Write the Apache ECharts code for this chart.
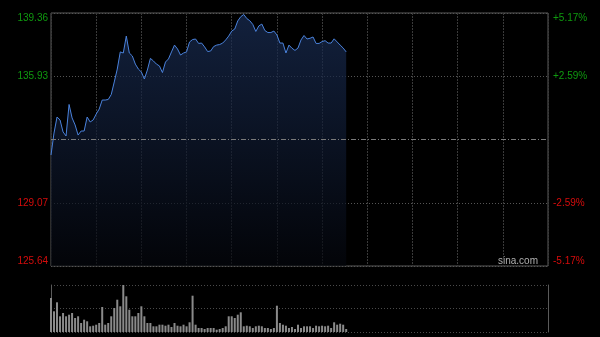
<!DOCTYPE html>
<html>
<head>
<meta charset="utf-8">
<script src="https://cdn.jsdelivr.net/npm/echarts@6/dist/echarts.min.js"></script>
<style>
html,body{margin:0;padding:0;background:#000;}
#c{width:600px;height:337px;}
</style>
</head>
<body>
<div id="c"></div>
<script>
// ---- data ----
const prevClose = 132.50;
const priceTicks = [125.64, 129.07, 132.50, 135.93, 139.36];
const priceLabels = ['125.64', '129.07', '', '135.93', '139.36'];
const pctLabels = ['-5.17%', '-2.59%', '', '+2.59%', '+5.17%'];
const sessionMinutes = 330;   // 09:30-12:00, 13:00-16:00
const stepMinutes = 2;

const prices = [131.66,132.85,133.72,133.56,132.91,132.69,134.40,133.67,133.29,132.74,
132.96,132.96,133.72,133.45,133.56,133.88,134.15,134.64,134.64,134.67,
134.94,135.62,136.32,137.25,137.19,138.11,137.19,137.03,136.59,136.32,
136.16,135.78,136.27,136.90,136.76,136.59,136.49,136.13,136.70,136.87,
137.25,137.62,137.41,137.08,137.19,137.25,137.79,137.92,137.95,137.71,
137.73,137.52,137.27,137.30,137.54,137.62,137.65,137.73,137.90,138.11,
138.38,138.49,138.93,139.16,139.28,139.06,138.94,138.74,138.36,138.66,
138.76,138.41,138.30,138.30,138.38,138.17,137.73,137.73,137.19,137.62,
137.45,137.33,137.46,137.90,138.14,137.95,137.99,138.06,137.71,137.71,
137.81,137.86,137.73,137.73,137.96,137.79,137.62,137.46,137.25];

const volumes = [340,207,297,157,190,157,173,190,140,157,
90,123,107,57,63,73,90,250,73,90,
157,240,323,257,470,357,223,157,157,190,
257,157,90,90,57,57,73,73,63,73,
50,90,63,57,73,57,97,363,73,40,
40,30,40,40,40,23,30,40,57,157,
157,140,173,197,57,63,57,40,57,63,
57,40,40,30,40,263,90,73,63,40,
50,30,73,40,57,57,57,40,63,57,
63,57,63,40,97,73,83,73,30];
const volumeMax = 470;

// ---- build ----
function fmtTime(m) {
  let t = m <= 150 ? 570 + m : 780 + (m - 150);
  const h = Math.floor(t / 60), mm = t % 60;
  return (h < 10 ? '0' : '') + h + ':' + (mm < 10 ? '0' : '') + mm;
}
const times = [];
for (let m = 0; m <= sessionMinutes; m += stepMinutes) times.push(fmtTime(m));
const perGrid = 30 / stepMinutes;

const base = priceTicks[0];
const step = priceTicks[1] - priceTicks[0];
const priceSteps = prices.map(p => (p - base) / step);
const prevStep = (prevClose - base) / step;

const GREEN = '#0f9a0f', RED = '#d60c0c';
const labelColor = (v) => {
  const i = Math.round(v);
  return i > 2 ? GREEN : (i < 2 ? RED : '#888');
};

const chart = echarts.init(document.getElementById('c'), null, {renderer: 'canvas'});
chart.setOption({
  backgroundColor: '#000',
  animation: false,
  textStyle: {fontFamily: 'Liberation Sans, Arial, sans-serif'},
  grid: [
    {left: 51, right: 52, top: 13, bottom: 71, show: true, borderColor: '#5a5a5a', borderWidth: 1},
    {left: 51, right: 52, top: 285, bottom: 5, show: false}
  ],
  xAxis: [
    {type: 'category', gridIndex: 0, data: times, boundaryGap: false,
     axisLine: {show: false}, axisTick: {show: false}, axisLabel: {show: false},
     splitLine: {show: true, interval: (i) => i % perGrid === 0,
       lineStyle: {color: '#3a3a3a', type: [2, 1], width: 1}}},
    {type: 'category', gridIndex: 1, data: times, boundaryGap: false,
     axisLine: {show: false}, axisTick: {show: false}, axisLabel: {show: false},
     splitLine: {show: false}}
  ],
  yAxis: [
    {type: 'value', gridIndex: 0, min: 0, max: 4, interval: 1, position: 'left',
     axisLine: {show: false}, axisTick: {show: false},
     axisLabel: {show: true, margin: 3, fontSize: 10,
       formatter: (v) => priceLabels[Math.round(v)],
       color: labelColor,
       verticalAlignMaxLabel: 'top', verticalAlignMinLabel: 'bottom'},
     splitLine: {show: true, lineStyle: {color: ['#555', '#555', 'rgba(0,0,0,0)', '#555', '#555'], type: [1, 2], width: 1}}},
    {type: 'value', gridIndex: 0, min: 0, max: 4, interval: 1, position: 'right',
     axisLine: {show: false}, axisTick: {show: false},
     axisLabel: {show: true, margin: 5, fontSize: 10,
       formatter: (v) => pctLabels[Math.round(v)],
       color: labelColor,
       verticalAlignMaxLabel: 'top', verticalAlignMinLabel: 'bottom'},
     splitLine: {show: false}},
    {type: 'value', gridIndex: 1, min: 0, max: volumeMax, interval: volumeMax / 2, position: 'left',
     axisLine: {show: true, lineStyle: {color: '#5a5a5a'}}, axisTick: {show: false}, axisLabel: {show: false},
     splitLine: {show: true, lineStyle: {color: '#4a4a4a', type: [1, 2], width: 1}}},
    {type: 'value', gridIndex: 1, min: 0, max: volumeMax, position: 'right',
     axisLine: {show: true, lineStyle: {color: '#5a5a5a'}}, axisTick: {show: false}, axisLabel: {show: false},
     splitLine: {show: false}}
  ],
  series: [
    {type: 'line', xAxisIndex: 0, yAxisIndex: 0, data: priceSteps, symbol: 'none', smooth: false,
     lineStyle: {color: '#4a82dc', width: 1},
     areaStyle: {color: new echarts.graphic.LinearGradient(0, 0, 0, 1, [
       {offset: 0, color: 'rgba(26,46,86,1)'},
       {offset: 1, color: 'rgba(4,6,12,1)'}])},
     markLine: {silent: true, symbol: ['none', 'none'], label: {show: false},
       lineStyle: {color: '#7a7a7a', type: [5, 2, 1, 2], width: 1},
       data: [{yAxis: prevStep}]}},
    {type: 'bar', xAxisIndex: 1, yAxisIndex: 2, data: volumes, barWidth: 2,
     itemStyle: {color: '#8a8a8a'}}
  ],
  graphic: [
    {type: 'text', left: 498, top: 256,
     style: {text: 'sina.com', fill: '#b0b0b0', font: '10px Liberation Sans, Arial, sans-serif'}}
  ]
});
</script>
</body>
</html>
